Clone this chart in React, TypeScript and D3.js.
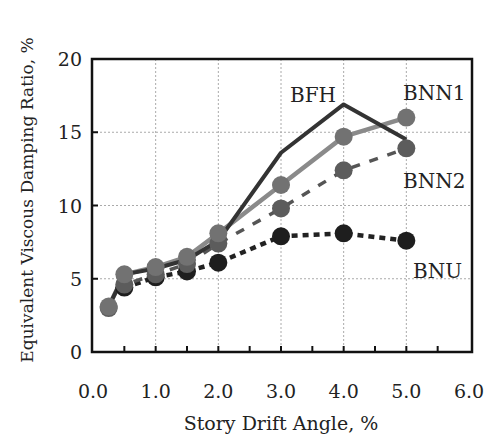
import React from "react";
import * as d3 from "d3";

const drift = [0.25, 0.5, 1.0, 1.5, 2.0, 3.0, 4.0, 5.0];
const bfh = [3.1, 5.3, 5.7, 6.3, 7.6, 13.6, 16.9, 14.5];
const bnn1 = [3.1, 5.3, 5.8, 6.5, 8.1, 11.4, 14.7, 16.0];
const bnn2 = [3.0, 4.6, 5.3, 6.0, 7.4, 9.8, 12.4, 13.9];
const bnuDrift = [0.5, 1.0, 1.5, 2.0, 3.0, 4.0, 5.0];
const bnu = [4.4, 5.1, 5.5, 6.1, 7.9, 8.1, 7.6];
const xTicks = [0, 1, 2, 3, 4, 5, 6];
const yTicks = [0, 5, 10, 15, 20];
const seriesLabels = ["BFH", "BNN1", "BNN2", "BNU"];

const W = 499, H = 443;
const L = 92, R = 472, T = 59, B = 352;

export default function App() {
  const x = d3.scaleLinear().domain([0, 6]).range([93, 469]);
  const y = d3.scaleLinear().domain([0, 20]).range([B, T]);
  const line = d3.line<[number, number]>().x(d => x(d[0])).y(d => y(d[1]));
  const pts = (xs: number[], ys: number[]) => xs.map((v, i) => [v, ys[i]] as [number, number]);
  const font = "'DejaVu Serif', serif";
  const minor = d3.range(0.5, 6, 0.5);
  const series = [
    { d: pts(bnuDrift, bnu), stroke: "#222", w: 4.5, dash: "6,5", marker: "#1e1e1e" },
    { d: pts(drift, bnn2), stroke: "#555", w: 3.5, dash: "9,10", marker: "#5c5c5c" },
    { d: pts(drift, bnn1), stroke: "#8a8a8a", w: 4.5, dash: null, marker: "#727272" },
    { d: pts(drift, bfh), stroke: "#333", w: 4, dash: null, marker: null },
  ];
  const ts = { fontFamily: font };
  return (
    <svg width={W} height={H} style={{ position: "absolute", left: 0, top: 0, background: "#fff", fontFamily: font }}>
      {[1, 2, 3, 4, 5].map(v => (
        <line key={"gx" + v} x1={x(v)} x2={x(v)} y1={T} y2={B} stroke="#aaa" strokeWidth={1} strokeDasharray="2,2" />
      ))}
      {[5, 10, 15].map(v => (
        <line key={"gy" + v} x1={L} x2={R} y1={y(v)} y2={y(v)} stroke="#aaa" strokeWidth={1} strokeDasharray="2,2" />
      ))}
      {series.map((s, i) => (
        <path key={"l" + i} d={line(s.d) || ""} fill="none" stroke={s.stroke} strokeWidth={s.w}
          strokeDasharray={s.dash || undefined} strokeLinejoin="round" />
      ))}
      {series.map((s, i) => s.marker ? s.d.map((p, j) => (
        <circle key={"m" + i + "-" + j} cx={x(p[0])} cy={y(p[1])} r={9} fill={s.marker} />
      )) : null)}
      <rect x={L} y={T} width={R - L} height={B - T} fill="none" stroke="#111" strokeWidth={2.5} />
      {minor.map(v => (
        <line key={"tx" + v} x1={x(v)} x2={x(v)} y1={B} y2={B - 6} stroke="#111" strokeWidth={2} />
      ))}
      {[5, 10, 15].map(v => (
        <line key={"ty" + v} x1={L} x2={L + 6} y1={y(v)} y2={y(v)} stroke="#111" strokeWidth={2} />
      ))}
      {xTicks.map(v => (
        <text key={"xl" + v} style={ts} x={x(v)} y={398} textAnchor="middle" fontSize={19} fill="#222">{v.toFixed(1)}</text>
      ))}
      {yTicks.map(v => (
        <text key={"yl" + v} style={ts} x={82} y={y(v) + 7} textAnchor="end" fontSize={19} fill="#222">{v}</text>
      ))}
      <text style={ts} x={281} y={430} textAnchor="middle" fontSize={19} fill="#222">Story Drift Angle, %</text>
      <text style={ts} transform={`translate(33,${200}) rotate(-90)`} textAnchor="middle" fontSize={17} fill="#222">
        Equivalent Viscous Damping Ratio, %
      </text>
      <text style={ts} x={290} y={102} fontSize={20} fill="#222">{seriesLabels[0]}</text>
      <text style={ts} x={403} y={100} fontSize={20} fill="#222">{seriesLabels[1]}</text>
      <text style={ts} x={403} y={188} fontSize={20} fill="#222">{seriesLabels[2]}</text>
      <text style={ts} x={413} y={278} fontSize={20} fill="#222">{seriesLabels[3]}</text>
    </svg>
  );
}
